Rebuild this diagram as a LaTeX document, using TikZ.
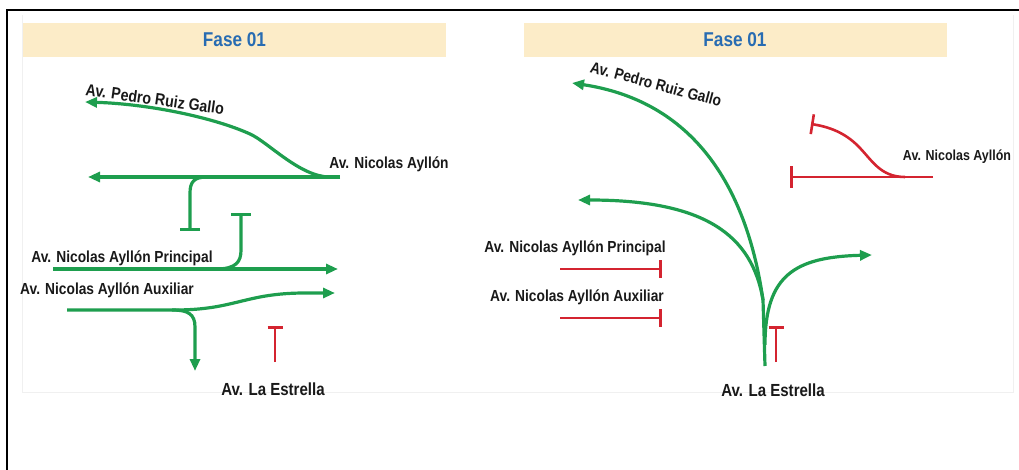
\documentclass[tikz,border=0pt]{standalone}
\usepackage{fontspec}
\newfontfamily\lab{Liberation Sans}[FakeStretch=0.86]
\usetikzlibrary{arrows.meta}
\definecolor{grn}{RGB}{30,158,78}
\definecolor{rd}{RGB}{212,36,48}
\definecolor{bann}{RGB}{252,236,200}
\definecolor{bl}{RGB}{40,108,178}
\tikzset{
  flow/.style={draw=grn, line width=3.2pt, line cap=butt},
  stopline/.style={draw=rd, line width=2.6pt},
  go/.style={flow, -{Triangle[length=12pt,width=10pt]}},
  gstop/.style={flow, -{Bar[width=20pt,line width=3pt]}},
  rstop/.style={stopline, -{Bar[width=18pt,line width=2.6pt]}},
  banner/.style={fill=bann, minimum width=423pt, minimum height=34pt, inner sep=0pt,
     text=bl, font=\lab\bfseries\fontsize{20}{23}\selectfont},
  street/.style={inner sep=0pt, text=black!90, font=\lab\bfseries\fontsize{16}{19}\selectfont},
  bigstreet/.style={street, font=\lab\bfseries\fontsize{17.5}{20}\selectfont},
}
\begin{document}
\begin{tikzpicture}[x=1pt,y=-1pt]
\useasboundingbox (0,0) rectangle (1019,470);
% faint panel and frame
\draw[black!6, line width=0.8pt] (22,15) -- (22,392) -- (1013,392) -- (1013,15);
\draw[black, line width=1.6pt] (7,470) -- (7,10) -- (1019,10);
% banners
\node[banner] (fL) at (234.5,40) {Fase 01};
\node[banner] (fR) at (735,40) {Fase 01};

% ---------- left panel ----------
\node[street, rotate=-8, font=\lab\bfseries\fontsize{16.5}{19}\selectfont] (pL) at (155,99) {Av. Pedro Ruiz Gallo};
\node[street] (nAL) at (389,164) {Av. Nicolas Ayllón};
\node[street] (prL) at (122,258) {Av. Nicolas Ayllón Principal};
\node[street] (auL) at (107,290) {Av. Nicolas Ayllón Auxiliar};
\node[bigstreet] (esL) at (273,389) {Av. La Estrella};

\coordinate (nE) at (340,177);
\coordinate (nW) at (88,177);
\coordinate (pS) at (330,177);
\coordinate (pM) at (250,134);
\coordinate (pW) at (85,102);
\coordinate (dS) at (207,177);
\coordinate (dE) at (190,231);
\coordinate (uS) at (216,269);
\coordinate (uE) at (241,213);
\coordinate (prW) at (53,269);
\coordinate (prE) at (338,269);
\coordinate (auW) at (67,310);
\coordinate (auM) at (175,310);
\coordinate (auN) at (305,293);
\coordinate (auE) at (335,293);
\coordinate (sdS) at (172,310);
\coordinate (sdE) at (195,371);
\coordinate (rtB) at (275,362);
\coordinate (rtT) at (275,326);

\draw[go] (nE) -- (nW);
\draw[go] (pS) .. controls (300,177) and (268,142) .. (pM) .. controls (215,118) and (150,104) .. (pW);
\draw[gstop] (dS) .. controls (194,177) and (190,182) .. (190,193) -- (dE);
\draw[gstop] (uS) .. controls (236,269) and (241,262) .. (241,250) -- (uE);
\draw[go] (prW) -- (prE);
\draw[go] (auW) -- (auM) .. controls (235,310) and (245,293) .. (auN) -- (auE);
\draw[go] (sdS) .. controls (188,310) and (195,314) .. (195,327) -- (sdE);
\draw[rstop, -{Bar[width=15pt,line width=2.6pt]}] (rtB) -- (rtT);

% ---------- right panel ----------
\node[street, rotate=-15] (pR) at (656,84) {Av. Pedro Ruiz Gallo};
\node[street, font=\lab\bfseries\fontsize{14.5}{17}\selectfont] (nAR) at (957,157) {Av. Nicolas Ayllón};
\node[street] (prR) at (575,248) {Av. Nicolas Ayllón Principal};
\node[street] (auR) at (577,297) {Av. Nicolas Ayllón Auxiliar};
\node[bigstreet] (esR) at (773,390) {Av. La Estrella};

\coordinate (sB) at (765,366);
\coordinate (sM) at (763,300);
\coordinate (aW) at (572,83);
\coordinate (bW) at (578,200);
\coordinate (cS) at (765,345);
\coordinate (cE) at (872,255);
\coordinate (rB) at (776,362);
\coordinate (rT) at (776,326);
\coordinate (rpW) at (560,269);
\coordinate (rpE) at (662,269);
\coordinate (raW) at (560,318);
\coordinate (raE) at (662,318);
\coordinate (rnE) at (933,177);
\coordinate (rnW) at (790,177);
\coordinate (rcS) at (905,177);
\coordinate (rcM) at (858,146);
\coordinate (rcE) at (811,124);

\draw[go] (sB) -- (sM) .. controls (745,175) and (685,100) .. (aW);
\draw[go] (sM) .. controls (752,235) and (705,200) .. (bW);
\draw[go] (cS) .. controls (765,275) and (795,257) .. (cE);
\draw[rstop, -{Bar[width=15pt,line width=2.6pt]}] (rB) -- (rT);
\draw[rstop] (rpW) -- (rpE);
\draw[rstop] (raW) -- (raE);
\draw[rstop, -{Bar[width=22pt,line width=2.6pt]}] (rnE) -- (rnW);
\draw[rstop, -{Bar[width=20pt,line width=2.6pt]}] (rcS) .. controls (880,177) and (872,160) .. (rcM) .. controls (845,133) and (830,127) .. (rcE);
\end{tikzpicture}
\end{document}
